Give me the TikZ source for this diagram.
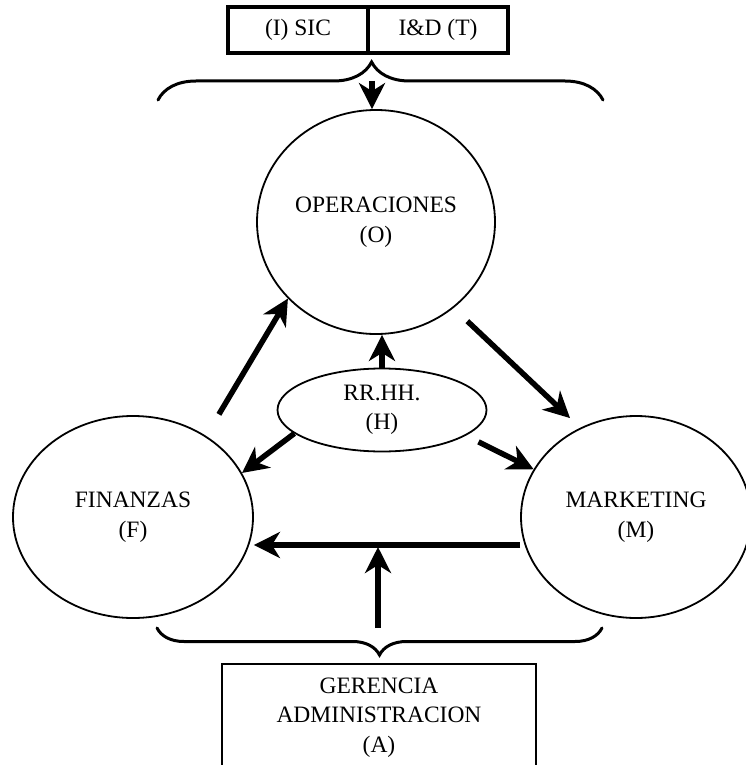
\documentclass[tikz,border=0pt]{standalone}
\usepackage{fontspec}
\setmainfont{Liberation Serif}
\usetikzlibrary{shapes.geometric, arrows.meta}
\usetikzlibrary{positioning}
\usetikzlibrary{decorations.pathreplacing}
\tikzstyle{areanode}=[draw, ellipse, line width=1.8pt, inner sep=0pt, align=center]

\begin{document}
\begin{tikzpicture}[
 x=1pt, y=-1pt,
 font=\fontsize{23.5}{29.5}\selectfont,
 topbox/.style={rectangle, draw, line width=3.2pt, outer sep=0pt, minimum width=140pt, minimum height=46pt, inner sep=0pt},
 basebox/.style={rectangle, draw, line width=2.6pt, minimum width=314pt, minimum height=107pt, align=center},
 bigarrow/.style={line width=5.5pt, -{Stealth[length=26pt, width=26pt, inset=8pt]}},
 bracket/.style={decorate, line width=3pt, line cap=round, decoration={brace, amplitude=#1}},
 ]
 \useasboundingbox (0,0) rectangle (746,765);
 \clip (0,0) rectangle (746,765);

 %Nodes
 \node[topbox]      (sic_node)   at (298,30) {(I) SIC};
 \node[topbox]      (iyd_node)   [right=0pt of sic_node] {I\&D (T)};
 \node[areanode, minimum width=238pt, minimum height=224pt] (oper_node) at (376,222) {OPERACIONES\\(O)};
 \node[areanode, minimum width=209pt, minimum height=83pt]  (rrhh_node) at (382,410) {RR.HH.\\(H)};
 \node[areanode, minimum width=240pt, minimum height=202pt] (fin_node)  at (133,517) {FINANZAS\\(F)};
 \node[areanode, minimum width=230pt, minimum height=202pt] (mark_node) at (636,517) {MARKETING\\(M)};
 \node[basebox]     (ger_node)   at (379,717.5) {GERENCIA\\ADMINISTRACION\\(A)};

 %Braces
 \coordinate (tb_left)  at (158,100);
 \coordinate (tb_right) at (603,100);
 \coordinate (tb_tip)   at (372,81);
 \coordinate (ab_left)  at (157,628);
 \coordinate (ab_right) at (602,628);
 \coordinate (ab_mid)   at (378,628);
 \draw[bracket=38pt, decoration={aspect=0.48}] (tb_left) -- (tb_right);
 \draw[bracket=27pt, decoration={aspect=0.5}] (ab_right) -- (ab_left);

 %Lines
 \coordinate (flow_start) at ([yshift=-28pt]mark_node.west);
 \coordinate (flow_end)   at ([yshift=-28pt]fin_node.east);
 \draw[bigarrow] (tb_tip) -- (tb_tip |- oper_node.north);
 \draw[bigarrow, shorten <=25pt] (fin_node.48) -- (oper_node.221);
 \draw[bigarrow, shorten <=19pt, shorten >=14pt] (oper_node.-48) -- (mark_node.122);
 \draw[bigarrow] (rrhh_node.north) -- (rrhh_node.north |- oper_node.south);
 \draw[bigarrow] (rrhh_node.195) -- (fin_node.22);
 \draw[bigarrow, shorten <=14pt] (rrhh_node.-17) -- (mark_node.155);
 \draw[bigarrow] (flow_start) -- (flow_end);
 \draw[bigarrow, shorten >=2pt] (ab_mid) -- (ab_mid |- flow_end);
\end{tikzpicture}
\end{document}
